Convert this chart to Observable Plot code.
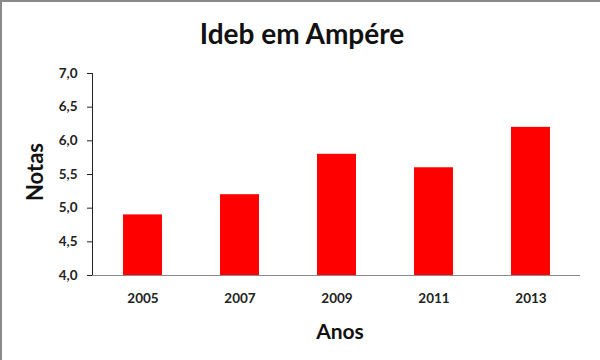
<!DOCTYPE html>
<html>
<head>
<meta charset="utf-8">
<script src="https://cdn.jsdelivr.net/npm/d3@7"></script>
<script src="https://cdn.jsdelivr.net/npm/@observablehq/plot@0.6"></script>
<style>
  html, body { margin: 0; padding: 0; background: #fff; }
  #wrap { position: relative; width: 600px; height: 360px; overflow: hidden; font-family: Lato, "Open Sans", sans-serif; box-sizing: border-box; border-left: 2px solid #8a8a8a; border-top: 2px solid #8a8a8a; }
  #chart { position: absolute; left: -2px; top: -2px; }
  .lbl { position: absolute; font-weight: bold; color: #111; white-space: nowrap; line-height: 1.2; }
  #title { left: 300px; top: 32px; transform: translate(-50%, -50%); font-size: 28px; }
  #xlab { left: 338px; top: 329px; transform: translate(-50%, -50%); font-size: 21px; }
  #ylab { left: 33px; top: 170px; transform: translate(-50%, -50%) rotate(-90deg); font-size: 22px; }
</style>
</head>
<body>
<div id="wrap">
  <div id="chart"></div>
  <div class="lbl" id="title">Ideb em Ampére</div>
  <div class="lbl" id="xlab">Anos</div>
  <div class="lbl" id="ylab">Notas</div>
</div>
<script>
const anos = ["2005", "2007", "2009", "2011", "2013"];
const notas = [4.9, 5.2, 5.8, 5.6, 6.2];
const yTicks = [4.0, 4.5, 5.0, 5.5, 6.0, 6.5, 7.0];

const data = anos.map((a, i) => ({ano: a, nota: notas[i]}));
const fmt = d => d3.format(".1f")(d).replace(".", ",");

const chart = Plot.plot({
  width: 600,
  height: 360,
  marginLeft: 92,
  marginRight: 20,
  marginTop: 73,
  marginBottom: 85,
  style: { fontFamily: "Lato, 'Open Sans', sans-serif", fontSize: "13.5px", fontWeight: "bold", color: "#222", background: "transparent" },
  x: { domain: anos, paddingInner: 0.6, paddingOuter: 0.3, tickSize: 0, tickPadding: 18, label: null },
  y: { domain: [4, 7], ticks: yTicks, tickFormat: fmt, tickSize: 5, tickPadding: 10, label: null, line: true },
  marks: [
    Plot.barY(data, { x: "ano", y1: 4, y2: "nota", fill: "#ff0000" }),
    Plot.ruleY([4], { stroke: "#8a8a8a" })
  ]
});
d3.select(chart).selectAll("g[aria-label='y-axis']").attr("stroke", "#8a8a8a");
document.getElementById("chart").appendChild(chart);
</script>
</body>
</html>
